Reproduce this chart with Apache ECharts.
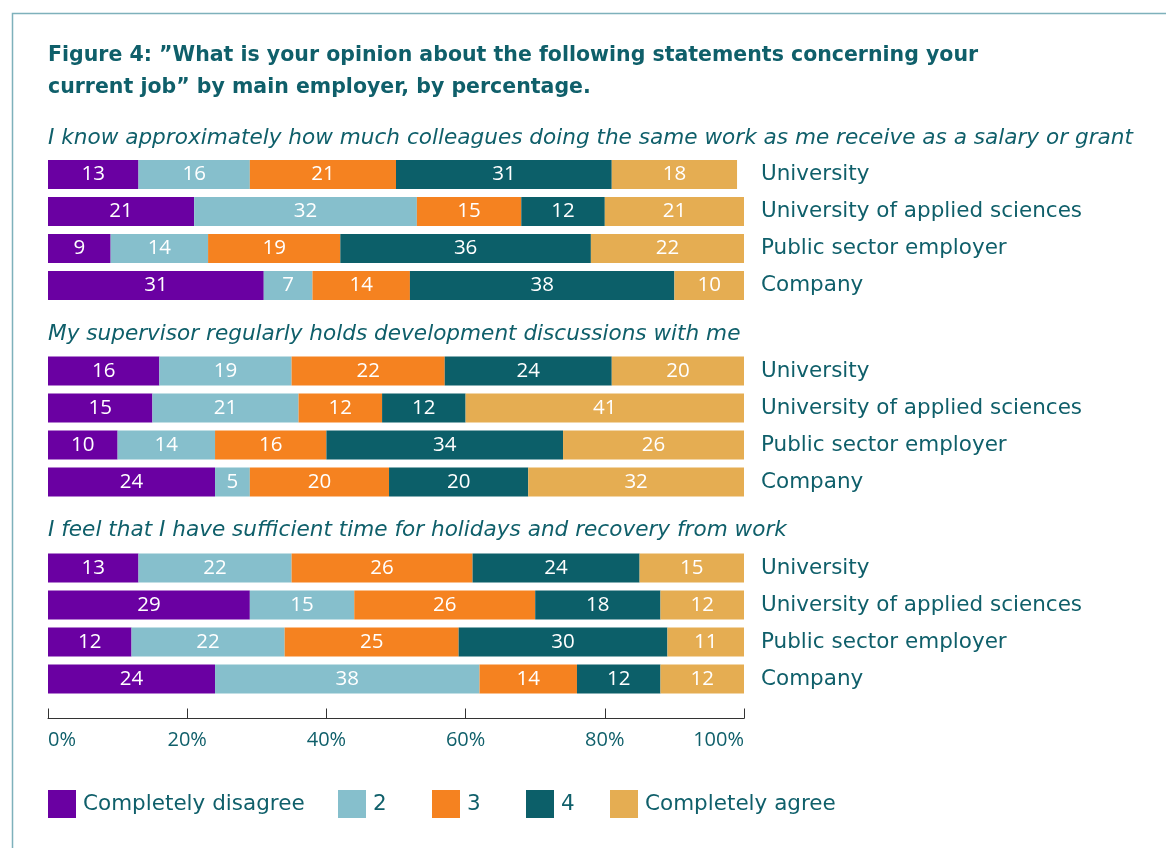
<!DOCTYPE html>
<html>
<head>
<meta charset="utf-8">
<script src="https://cdn.jsdelivr.net/npm/echarts@6/dist/echarts.min.js"></script>
<style>
  html, body { margin: 0; padding: 0; background: #fff; }
  #chart { width: 1166px; height: 848px; }
</style>
</head>
<body>
<div id="chart"></div>
<script>
// Employer types, shown top to bottom in each block
const employers = ['University', 'University of applied sciences', 'Public sector employer', 'Company'];

// Answer scale, 1 (completely disagree) .. 5 (completely agree)
const levels = ['Completely disagree', '2', '3', '4', 'Completely agree'];

// Statements asked
const statements = [
  'I know approximately how much colleagues doing the same work as me receive as a salary or grant',
  'My supervisor regularly holds development discussions with me',
  'I feel that I have sufficient time for holidays and recovery from work'
];

// Percentages per employer (rows) and answer level (columns)
const salaryKnowledge = [
  [13, 16, 21, 31, 18],
  [21, 32, 15, 12, 21],
  [9, 14, 19, 36, 22],
  [31, 7, 14, 38, 10]
];
const developmentTalks = [
  [16, 19, 22, 24, 20],
  [15, 21, 12, 12, 41],
  [10, 14, 16, 34, 26],
  [24, 5, 20, 20, 32]
];
const holidayTime = [
  [13, 22, 26, 24, 15],
  [29, 15, 26, 18, 12],
  [12, 22, 25, 30, 11],
  [24, 38, 14, 12, 12]
];

const xTicks = [0, 20, 40, 60, 80, 100];

const blocks = [salaryKnowledge, developmentTalks, holidayTime];
const colors = ['#6a00a2', '#86bfcc', '#f58220', '#0c5f69', '#e5ad52'];
const teal = '#0f5f6a';
const FONT = '"DejaVu Sans", sans-serif';
const NUM_FONT = '"Open Sans", sans-serif';

const chart = echarts.init(document.getElementById('chart'));

const gridTops = [156, 352.5, 549.5];
const grids = gridTops.map(t => ({ left: 48, width: 696, top: t, height: 148 }));

const xAxes = gridTops.map((t, i) => {
  const last = i === gridTops.length - 1;
  return {
    type: 'value', gridIndex: i, min: xTicks[0], max: xTicks[xTicks.length - 1], interval: 20,
    show: last,
    offset: last ? 21 : 0,
    axisLine: { show: true, lineStyle: { color: '#333', width: 1 } },
    axisTick: { show: true, inside: true, length: 10, lineStyle: { color: '#333', width: 1 } },
    splitLine: { show: false },
    axisLabel: {
      formatter: '{value}%', color: teal, fontSize: 20, fontFamily: NUM_FONT, margin: 12,
      alignMinLabel: 'left', alignMaxLabel: 'right'
    }
  };
});

const yAxes = gridTops.map((t, i) => ({
  type: 'category', gridIndex: i, data: employers, inverse: true, position: 'right',
  axisLine: { show: false }, axisTick: { show: false },
  axisLabel: { color: teal, fontSize: 21.5, fontFamily: FONT, margin: 17, align: 'left', padding: [4, 0, 0, 0] }
}));

const series = [];
blocks.forEach((rows, g) => {
  levels.forEach((lvl, k) => {
    series.push({
      type: 'bar', name: lvl, xAxisIndex: g, yAxisIndex: g, stack: 'block' + g,
      barWidth: 29,
      itemStyle: { color: colors[k] },
      label: {
        show: true, position: 'inside', color: '#fff', fontSize: 20.5, fontFamily: NUM_FONT
      },
      data: rows.map(r => r[k])
    });
  });
});

const legendLeft = [48, 338, 432, 526, 610];
const legends = levels.map((lvl, k) => ({
  data: [lvl], left: legendLeft[k], top: 790, icon: 'rect',
  itemWidth: 28, itemHeight: 28, padding: 0,
  textStyle: { color: teal, fontSize: 21.5, fontFamily: FONT, padding: [2, 0, 0, 2] },
  selectedMode: false
}));

const titles = [
  {
    text: 'Figure 4: \u201dWhat is your opinion about the following statements concerning your\ncurrent job\u201d by main employer, by percentage.',
    left: 48, top: 40, padding: 0,
    textStyle: { color: teal, fontSize: 20.5, fontWeight: 'bold', fontFamily: FONT, lineHeight: 32 }
  }
].concat(statements.map((s, i) => ({
  text: s, left: 48, top: [124, 320, 516][i], padding: 0,
  textStyle: { color: teal, fontSize: 21.6, fontStyle: 'italic', fontWeight: 'normal', fontFamily: FONT, lineHeight: 28 }
})));

chart.setOption({
  animation: false,
  backgroundColor: '#fff',
  title: titles,
  legend: legends,
  grid: grids,
  xAxis: xAxes,
  yAxis: yAxes,
  series: series,
  graphic: [{
    type: 'rect', left: 10, top: 11, silent: true,
    shape: { width: 1200, height: 900 },
    style: { fill: null, stroke: '#7eb1bb', lineWidth: 1.5 }
  }]
});
</script>
</body>
</html>
